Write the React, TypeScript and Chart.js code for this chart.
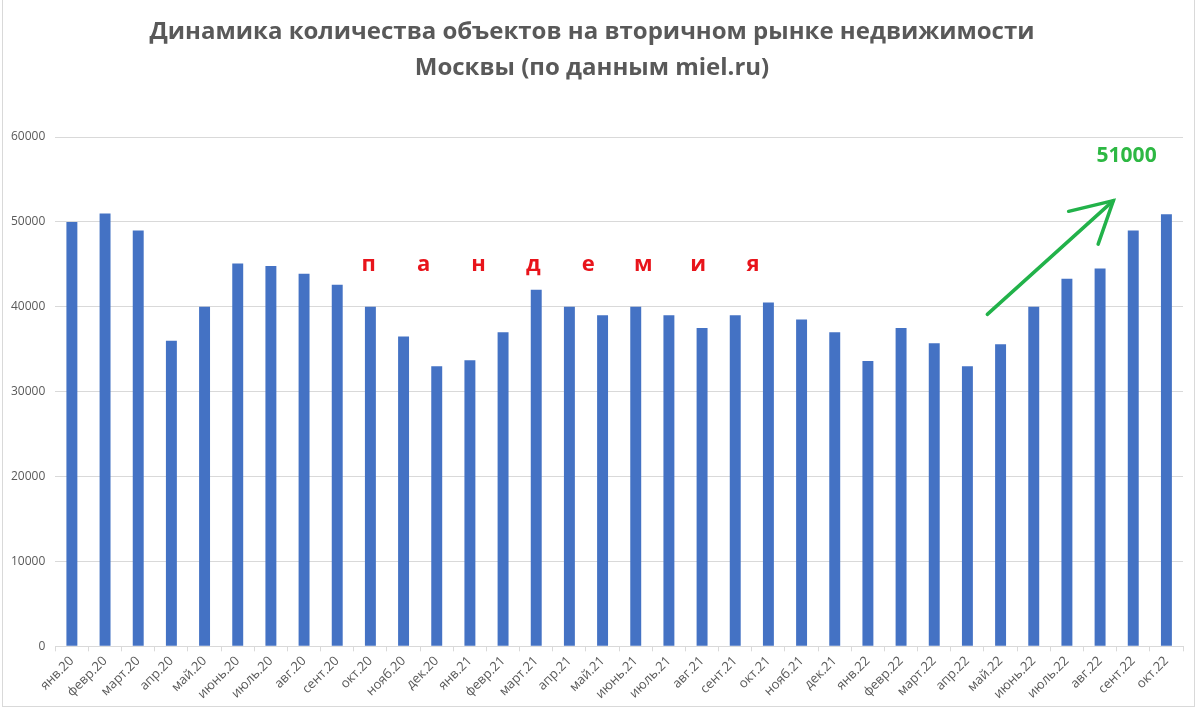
import { useEffect, useRef } from 'react'
import { Chart, registerables } from 'chart.js'
import type { Plugin } from 'chart.js'

Chart.register(...registerables)

// Months, Jan 2020 - Oct 2022
const months = [
  'янв.20', 'февр.20', 'март.20', 'апр.20', 'май.20', 'июнь.20', 'июль.20', 'авг.20', 'сент.20', 'окт.20', 'нояб.20', 'дек.20',
  'янв.21', 'февр.21', 'март.21', 'апр.21', 'май.21', 'июнь.21', 'июль.21', 'авг.21', 'сент.21', 'окт.21', 'нояб.21', 'дек.21',
  'янв.22', 'февр.22', 'март.22', 'апр.22', 'май.22', 'июнь.22', 'июль.22', 'авг.22', 'сент.22', 'окт.22'
]

// Number of listings
const listings = [
  50000, 51000, 49000, 36000, 40000, 45100, 44800, 43900, 42600, 40000, 36500, 33000,
  33700, 37000, 42000, 40000, 39000, 40000, 39000, 37500, 39000, 40500, 38500, 37000,
  33600, 37500, 35700, 33000, 35600, 40000, 43300, 44500, 49000, 50900
]

const titleLines = [
  'Динамика количества объектов на вторичном рынке недвижимости',
  'Москвы (по данным miel.ru)'
]

const pandemicLetters = ['п', 'а', 'н', 'д', 'е', 'м', 'и', 'я']
const peakLabel = '51000'

const FONT = '"Open Sans", sans-serif'
const GREEN = '#22b24a'

// draws the red "пандемия" letters and the green arrow with its label
const annotations: Plugin<'bar'> = {
  id: 'annotations',
  afterDatasetsDraw(chart) {
    const { ctx, scales } = chart
    const x = scales.x
    const y = scales.y
    ctx.save()

    // pandemic letters
    ctx.fillStyle = '#e8141b'
    ctx.font = `bold 22px ${FONT}`
    ctx.textAlign = 'center'
    ctx.textBaseline = 'middle'
    const ly = y.getPixelForValue(44900)
    pandemicLetters.forEach((ch, i) => {
      ctx.fillText(ch, x.getPixelForValue(8.95 + i * 1.655), ly)
    })

    // arrow
    const x0 = x.getPixelForValue(27.6)
    const y0 = y.getPixelForValue(39100)
    const x1 = x.getPixelForValue(31.4)
    const y1 = y.getPixelForValue(52500)
    ctx.strokeStyle = GREEN
    ctx.lineWidth = 3.5
    ctx.lineCap = 'round'
    ctx.beginPath()
    ctx.moveTo(x0, y0)
    ctx.lineTo(x1, y1)
    ctx.stroke()
    const ang = Math.atan2(y1 - y0, x1 - x0)
    const head = 46
    ctx.beginPath()
    ctx.moveTo(x1 + head * Math.cos(ang + Math.PI - 0.5), y1 + head * Math.sin(ang + Math.PI - 0.5))
    ctx.lineTo(x1, y1)
    ctx.lineTo(x1 + head * Math.cos(ang + Math.PI + 0.5), y1 + head * Math.sin(ang + Math.PI + 0.5))
    ctx.stroke()

    // peak label
    ctx.fillStyle = '#2db843'
    ctx.font = `bold 21px ${FONT}`
    ctx.fillText(peakLabel, x.getPixelForValue(31.8), y.getPixelForValue(57800))

    ctx.restore()
  }
}

function ListingsChart() {
  const canvasRef = useRef<HTMLCanvasElement>(null)

  useEffect(() => {
    if (!canvasRef.current) return
    const chart = new Chart(canvasRef.current, {
      type: 'bar',
      data: {
        labels: months,
        datasets: [
          {
            data: listings,
            backgroundColor: '#4472c4',
            barPercentage: 0.33,
            categoryPercentage: 1
          }
        ]
      },
      options: {
        animation: false,
        responsive: true,
        maintainAspectRatio: false,
        layout: { padding: { left: 1, right: 17, top: 6, bottom: 6 } },
        plugins: {
          legend: { display: false },
          tooltip: { enabled: false },
          title: {
            display: true,
            text: titleLines,
            color: '#595959',
            font: { family: FONT, size: 24, weight: 'bold', lineHeight: 1.5 },
            padding: { top: 8, bottom: 51 }
          }
        },
        scales: {
          x: {
            grid: {
              display: true,
              drawOnChartArea: false,
              drawTicks: true,
              tickLength: 5,
              color: '#d9d9d9'
            },
            border: { display: true, color: '#d9d9d9' },
            ticks: {
              color: '#595959',
              font: { family: FONT, size: 13 },
              minRotation: 45,
              maxRotation: 45,
              autoSkip: false,
              padding: 2
            }
          },
          y: {
            min: 0,
            max: 60000,
            grid: { color: '#d9d9d9', drawTicks: false },
            border: { display: false },
            ticks: {
              stepSize: 10000,
              color: '#595959',
              font: { family: FONT, size: 12 },
              padding: 10,
              callback: (v) => String(v)
            }
          }
        }
      },
      plugins: [annotations]
    })
    return () => chart.destroy()
  }, [])

  return <canvas ref={canvasRef}></canvas>
}

export default function App() {
  useEffect(() => {
    document.body.style.margin = '0'
  }, [])

  return (
    <div style={{ position: 'relative', width: 1200, height: 717, background: '#fff', overflow: 'hidden' }}>
      <div
        style={{
          position: 'absolute',
          left: 2,
          top: -2,
          width: 1193,
          height: 709,
          border: '1px solid #d9d9d9',
          boxSizing: 'border-box'
        }}
      />
      <div style={{ position: 'absolute', left: 0, top: 0, width: 1200, height: 710 }}>
        <ListingsChart />
      </div>
    </div>
  )
}
